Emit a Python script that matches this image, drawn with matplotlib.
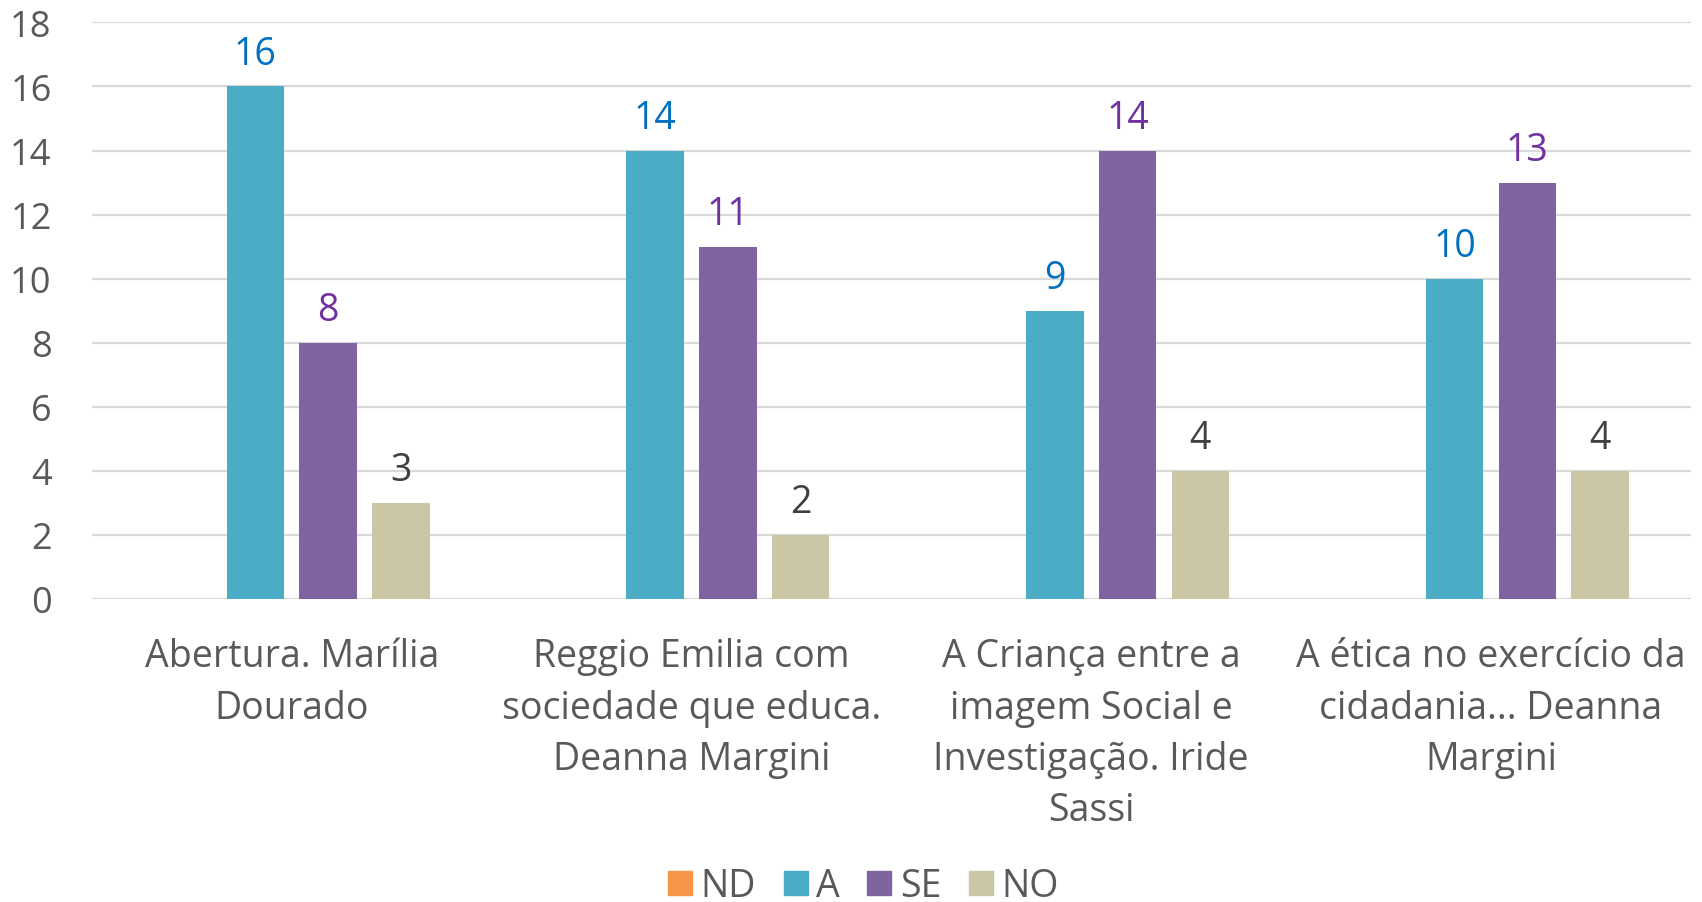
import numpy as np
import matplotlib.pyplot as plt
from matplotlib.lines import Line2D

categories = ["Abertura. Marília\nDourado",
              "Reggio Emilia com\nsociedade que educa.\nDeanna Margini",
              "A Criança entre a\nimagem Social e\nInvestigação. Iride\nSassi",
              "A ética no exercício da\ncidadania... Deanna\nMargini"]
series = ["ND", "A", "SE", "NO"]
nd = [0, 0, 0, 0]
a = [16, 14, 9, 10]
se = [8, 11, 14, 13]
no = [3, 2, 4, 4]

colors = ["#F79646", "#4BACC6", "#8064A2", "#CBC6A4"]
label_colors = [None, "#0070C0", "#7030A0", "#404040"]
txt = "#595959"

plt.rcParams['font.family'] = ['Open Sans', 'DejaVu Sans']

fig = plt.figure(figsize=(17.02, 9.03), dpi=100)
ax = fig.add_axes([0.054, 0.336, 0.9395, 0.638])

x = np.arange(len(categories))
step = 0.182
width = 0.144
for i, (name, vals) in enumerate(zip(series, [nd, a, se, no])):
    pos = x + (i - 1.5) * step
    bars = ax.bar(pos, vals, width, color=colors[i], zorder=3)
    if label_colors[i] is None:
        continue
    for b, v in zip(bars, vals):
        ax.annotate(str(v), (b.get_x() + b.get_width() / 2, v),
                    xytext=(0, 10), textcoords='offset points',
                    ha='center', va='bottom', fontsize=27,
                    color=label_colors[i])

ax.set_xlim(-0.5, 3.5)
ax.set_ylim(0, 18)
ax.set_yticks(range(0, 19, 2))
ax.grid(axis='y', color='#D9D9D9', linewidth=1.6, zorder=0)
for s in ax.spines.values():
    s.set_visible(False)
ax.tick_params(axis='y', length=0, pad=29, labelsize=26, labelcolor=txt)
ax.set_xticks(x)
ax.set_xticklabels(categories, fontsize=27, color=txt, linespacing=1.45, va='top')
ax.tick_params(axis='x', length=0, pad=28)

handles = [Line2D([], [], marker='s', linestyle='none', markersize=17.5,
                  markerfacecolor=c, markeredgecolor=c) for c in colors]
fig.legend(handles, series, loc='center', bbox_to_anchor=(0.507, 0.018),
           ncol=4, frameon=False, fontsize=27, labelcolor=txt,
           handletextpad=0.2, columnspacing=0.7, handlelength=0.7)

fig.savefig('out.png', dpi=100)
